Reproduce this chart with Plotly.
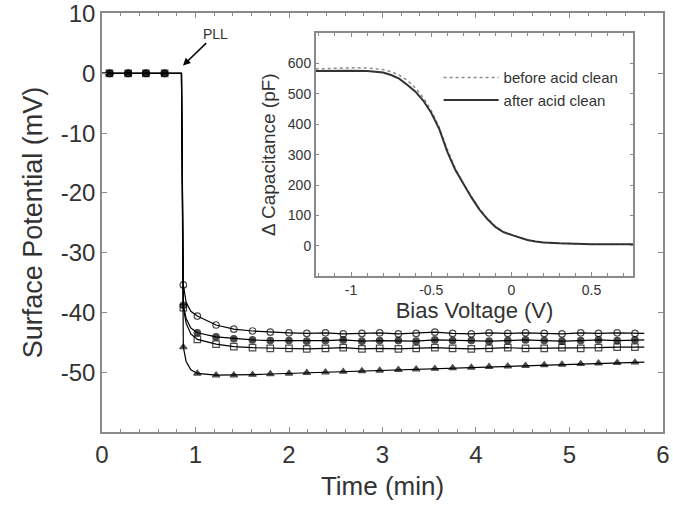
import plotly.graph_objects as go

# ---------------- main panel data ----------------
time_min = [0.00, 0.08, 0.28, 0.47, 0.67, 0.85, 0.87, 0.90, 0.95,
            1.02, 1.22, 1.41, 1.61, 1.80, 2.00, 2.19, 2.39, 2.58, 2.78,
            2.97, 3.17, 3.36, 3.56, 3.75, 3.95, 4.14, 4.34, 4.53, 4.73,
            4.92, 5.12, 5.31, 5.51, 5.70, 5.80]
marker_on = [0, 1, 1, 1, 1, 0, 1, 0, 0,
             1, 1, 1, 1, 1, 1, 1, 1, 1, 1,
             1, 1, 1, 1, 1, 1, 1, 1, 1, 1,
             1, 1, 1, 1, 1, 0]

pot_circle = [0, 0, 0, 0, 0, 0, -35.4, -38.3, -39.8,
              -40.6, -42.1, -42.8, -43.1, -43.3, -43.4, -43.5, -43.4, -43.6, -43.5,
              -43.4, -43.6, -43.5, -43.3, -43.5, -43.6, -43.4, -43.5, -43.4, -43.5,
              -43.6, -43.4, -43.5, -43.4, -43.5, -43.5]
pot_filled = [0, 0, 0, 0, 0, 0, -38.8, -41.0, -42.6,
              -43.4, -44.1, -44.4, -44.6, -44.7, -44.7, -44.8, -44.7, -44.6, -44.8,
              -44.7, -44.7, -44.8, -44.6, -44.7, -44.7, -44.8, -44.7, -44.6, -44.7,
              -44.8, -44.7, -44.6, -44.7, -44.6, -44.6]
pot_square = [0, 0, 0, 0, 0, 0, -39.2, -41.8, -43.6,
              -44.5, -45.3, -45.7, -45.9, -46.0, -46.0, -46.1, -46.0, -45.9, -46.1,
              -46.0, -46.1, -46.0, -45.9, -46.0, -46.1, -46.0, -45.9, -46.0, -46.0,
              -45.9, -46.0, -45.9, -45.8, -45.8, -45.8]
pot_triangle = [0, 0, 0, 0, 0, 0, -45.8, -48.2, -49.6,
                -50.2, -50.5, -50.5, -50.4, -50.3, -50.2, -50.1, -50.0, -49.9, -49.8,
                -49.7, -49.6, -49.5, -49.4, -49.3, -49.2, -49.1, -49.0, -48.9, -48.8,
                -48.7, -48.6, -48.5, -48.4, -48.35, -48.3]

x_ticks_main = [0, 1, 2, 3, 4, 5, 6]
y_ticks_main = [-50, -40, -30, -20, -10, 0, 10]
y_ticktext_main = ["-50", "-40", "-30", "-20", "-10", "0", "10"]

# ---------------- inset data ----------------
bias_v = [-1.22, -1.1, -1.0, -0.9, -0.8, -0.75, -0.7, -0.65, -0.6, -0.55,
          -0.5, -0.45, -0.4, -0.35, -0.3, -0.25, -0.2, -0.15, -0.1, -0.05,
          0.0, 0.05, 0.1, 0.15, 0.2, 0.3, 0.4, 0.5, 0.6, 0.76]
cap_before = [582, 584, 586, 585, 580, 573, 562, 545, 520, 488,
              445, 390, 318, 255, 205, 162, 122, 90, 64, 46,
              36, 27, 19, 14, 11, 8, 6, 5, 5, 5]
cap_after = [575, 576, 576, 575, 570, 562, 550, 530, 508, 478,
             438, 385, 310, 250, 203, 160, 120, 88, 62, 45,
             36, 27, 19, 14, 11, 8, 6, 5, 5, 5]
inset_xticks = [-1, -0.5, 0, 0.5]
inset_xtext = ["-1", "-0.5", "0", "0.5"]
inset_yticks = [0, 100, 200, 300, 400, 500, 600]

REG = "Liberation Sans, Arial, sans-serif"
TXT = "#333333"
AX = "#8a8a8a"

fig = go.Figure()

msize = [6.5 if m else 0 for m in marker_on]
series = [
    (pot_circle, "circle-open"),
    (pot_filled, "circle"),
    (pot_square, "square-open"),
    (pot_triangle, "triangle-up"),
]
for vals, sym in series:
    fig.add_trace(go.Scatter(
        x=time_min, y=vals, mode="lines+markers",
        line=dict(color="black", width=1.2),
        marker=dict(symbol=sym, size=msize, color="black",
                    line=dict(color="black", width=1.2)),
        showlegend=False, xaxis="x", yaxis="y"))

fig.add_trace(go.Scatter(
    x=bias_v, y=cap_before, mode="lines", name="before acid clean",
    line=dict(color="#8c8c8c", width=1.5, dash="dot"),
    xaxis="x2", yaxis="y2"))
fig.add_trace(go.Scatter(
    x=bias_v, y=cap_after, mode="lines", name="after acid clean",
    line=dict(color="#333333", width=2),
    xaxis="x2", yaxis="y2"))

common = dict(showline=True, linecolor=AX, linewidth=1.5, mirror="ticks",
              ticks="inside", tickcolor=AX, showgrid=False, zeroline=False,
              automargin=False)

fig.update_layout(
    width=673, height=506,
    margin=dict(l=102, r=10, t=13, b=74),
    paper_bgcolor="white", plot_bgcolor="white",
    font=dict(family=REG, color=TXT),
    xaxis=dict(domain=[0, 1], range=[0, 6.0001], tickvals=x_ticks_main,
               ticklen=5, tickfont=dict(size=24, family=REG, color=TXT),
               ticklabeloverflow="allow",
               minor=dict(ticks="inside", dtick=0.2, ticklen=3, tickcolor=AX),
               title=dict(text="Time (min)", font=dict(size=26, family=REG, color=TXT),
                          standoff=10),
               **common),
    yaxis=dict(domain=[0, 1], range=[-60, 10.1], tickvals=y_ticks_main,
               ticktext=y_ticktext_main, ticklabeloverflow="allow",
               ticklen=5, tickfont=dict(size=24, family=REG, color=TXT),
               title=dict(text="Surface Potential (mV)",
                          font=dict(size=27, family=REG, color=TXT), standoff=10),
               **common),
    xaxis2=dict(domain=[0.381, 0.947], anchor="y2", range=[-1.22, 0.76],
                tickvals=inset_xticks, ticktext=inset_xtext, ticklen=4,
                tickfont=dict(size=14, family=REG, color=TXT),
                minor=dict(ticks="inside", dtick=0.1, ticklen=3, tickcolor=AX),
                title=dict(text="Bias Voltage (V)", font=dict(size=22, family=REG, color=TXT),
                           standoff=4),
                **common),
    yaxis2=dict(domain=[0.372, 0.952], anchor="x2", range=[-100, 700],
                tickvals=inset_yticks, ticklen=4,
                tickfont=dict(size=14, family=REG, color=TXT),
                title=dict(text="Δ Capacitance (pF)", font=dict(size=19, family=REG, color=TXT),
                           standoff=7),
                **common),
    legend=dict(x=0.6, y=0.885, xanchor="left", yanchor="top",
                bgcolor="rgba(0,0,0,0)", font=dict(size=15, family=REG, color=TXT),
                itemwidth=55, tracegroupgap=0),
    annotations=[dict(x=0.866, y=1.3, xref="x", yref="y", text="PLL",
                      showarrow=True, arrowhead=2, arrowsize=1, arrowwidth=1.5,
                      arrowcolor="black", ax=33, ay=-32,
                      font=dict(size=14, family=REG, color=TXT))],
)

# remove the default 8px page margin so the figure sits at the window's corner
fig.write_html("out.html", config={"displayModeBar": False},
               post_script="document.body.style.margin='0';")
